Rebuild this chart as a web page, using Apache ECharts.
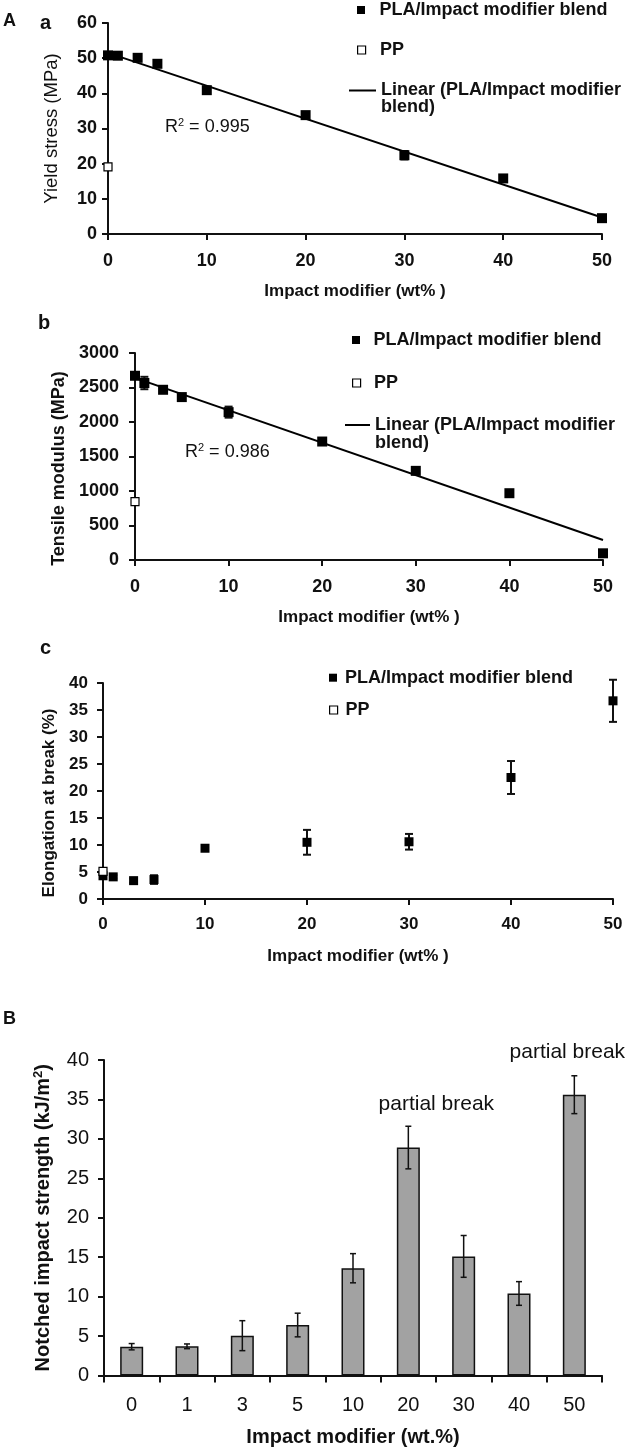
<!DOCTYPE html>
<html><head><meta charset="utf-8">
<script src="https://cdn.jsdelivr.net/npm/echarts@6/dist/echarts.min.js"></script>
<style>html,body{margin:0;padding:0;background:#fff}#c{width:630px;height:1453px}</style>
</head><body><div id="c"></div>
<script>
// ---------- data ----------
const loadings = [0, 1, 3, 5, 10, 20, 30, 40, 50];
const yieldBlend = [50.8, 50.7, 50.1, 48.4, 40.9, 33.8, 22.4, 15.8, 4.5];
const yieldErr = [0.5, 0.4, 0.5, 0.9, 0.8, 0.5, 1.2, 0.6, 0.5];
const yieldPP = 19.1;
const yieldTrend = [[0, 51.5], [50, 4.7]];
const modulusBlend = [2670, 2565, 2467, 2361, 2143, 1717, 1292, 968, 97];
const modulusErr = [30, 90, 20, 25, 80, 25, 25, 15, 25];
const modulusPP = 846;
const modulusTrend = [[0, 2640], [50, 290]];
const elongBlend = [4.3, 4.1, 3.4, 3.6, 9.4, 10.5, 10.6, 22.5, 36.7];
const elongErr = [0.3, 0.3, 0.4, 0.8, 0.5, 2.3, 1.45, 3.05, 3.9];
const elongPP = 5.1;
const impactCats = ['0', '1', '3', '5', '10', '20', '30', '40', '50'];
const impactMean = [3.65, 3.7, 5.05, 6.4, 13.6, 28.9, 15.1, 10.4, 35.6];
const impactErr = [0.4, 0.3, 1.9, 1.5, 1.85, 2.7, 2.65, 1.5, 2.4];
const r2Texts = ['0.995', '0.986'];
const breakCats = ['20', '50'];

const BLEND = 'PLA/Impact modifier blend';
const PPN = 'PP';
const LIN = 'Linear (PLA/Impact modifier blend)';

// ---------- style ----------
const FONT = "'Liberation Sans', Arial, Helvetica, sans-serif";
const INK = '#111';
const SQUARE = 'path://M0,0H10V10H0Z';

function axisBase(extra) {
  return Object.assign({
    axisLine: { show: true, onZero: false, lineStyle: { color: INK, width: 2 } },
    axisTick: { show: true, inside: false, length: 6, lineStyle: { color: INK, width: 2 } },
    splitLine: { show: false },
    nameLocation: 'middle',
  }, extra);
}
function lbl(size, weight, margin) {
  return { color: INK, fontFamily: FONT, fontSize: size, fontWeight: weight, margin: margin, formatter: v => String(v) };
}
function nameStyle(size, weight, extra) {
  return Object.assign({ color: INK, fontFamily: FONT, fontSize: size, fontWeight: weight }, extra || {});
}

function errSeries(axisIdx, xs, means, errs, capHalf, lw) {
  return {
    type: 'custom', xAxisIndex: axisIdx, yAxisIndex: axisIdx, z: 3, clip: false, silent: true,
    data: xs.map((x, i) => [x, means[i] - errs[i], means[i] + errs[i]]),
    encode: { x: 0, y: [1, 2] },
    renderItem: function (params, api) {
      const x = api.value(0);
      const top = api.coord([x, api.value(2)]);
      const bot = api.coord([x, api.value(1)]);
      const st = { stroke: INK, lineWidth: lw };
      return {
        type: 'group', children: [
          { type: 'line', shape: { x1: top[0], y1: top[1], x2: bot[0], y2: bot[1] }, style: st },
          { type: 'line', shape: { x1: top[0] - capHalf, y1: top[1], x2: top[0] + capHalf, y2: top[1] }, style: st },
          { type: 'line', shape: { x1: bot[0] - capHalf, y1: bot[1], x2: bot[0] + capHalf, y2: bot[1] }, style: st }
        ]
      };
    }
  };
}
function blendSeries(axisIdx, values, size) {
  return {
    name: BLEND, type: 'scatter', xAxisIndex: axisIdx, yAxisIndex: axisIdx, z: 4, clip: false,
    symbol: 'rect', symbolSize: size,
    data: loadings.map((x, i) => [x, values[i]]),
    itemStyle: { color: '#000', opacity: 1 }
  };
}
function ppSeries(axisIdx, v, size) {
  return {
    name: PPN, type: 'scatter', xAxisIndex: axisIdx, yAxisIndex: axisIdx, z: 5, clip: false,
    symbol: 'rect', symbolSize: size,
    data: [[0, v]],
    itemStyle: { color: '#fff', borderColor: '#000', borderWidth: 1.2, opacity: 1 }
  };
}
function trendSeries(axisIdx, pts) {
  return {
    name: LIN, type: 'line', xAxisIndex: axisIdx, yAxisIndex: axisIdx, z: 3,
    symbol: 'none', data: pts, lineStyle: { color: '#000', width: 2 }
  };
}

const legTxt = (lh) => ({ color: INK, fontFamily: FONT, fontSize: 18, fontWeight: 'bold', lineHeight: lh });
function legSquare(name, left, top, iw, itemStyle) {
  return {
    show: true, orient: 'vertical', left: left, top: top, padding: 0, selectedMode: false,
    itemWidth: iw, itemHeight: 8, symbolKeepAspect: true, data: [{ name: name, icon: SQUARE }],
    itemStyle: itemStyle, textStyle: legTxt(18)
  };
}
function legLine(left, top, iw, lh) {
  return {
    show: true, orient: 'vertical', left: left, top: top, padding: 0, selectedMode: false,
    itemWidth: iw, itemHeight: 2, symbolKeepAspect: false,
    data: [{ name: LIN, icon: 'rect' }],
    itemStyle: { color: '#000', borderWidth: 0 },
    lineStyle: { width: 0 },
    formatter: () => '\u00a0\nLinear (PLA/Impact modifier\nblend)',
    textStyle: legTxt(lh)
  };
}

const grids = [
  { left: 108, top: 23, width: 494, height: 211 },
  { left: 135, top: 353, width: 468, height: 207 },
  { left: 103, top: 683, width: 510, height: 216 },
  { left: 104, top: 1060, width: 498, height: 315.5 }
];

const xTitle = 'Impact modifier (wt% )';
const option = {
  animation: false,
  backgroundColor: '#fff',
  grid: grids,
  xAxis: [
    axisBase({ gridIndex: 0, type: 'value', min: 0, max: 50, interval: 10, axisLabel: lbl(18, 'bold', 18),
      name: xTitle, nameGap: 49, nameTextStyle: nameStyle(17, 'bold') }),
    axisBase({ gridIndex: 1, type: 'value', min: 0, max: 50, interval: 10, axisLabel: lbl(18, 'bold', 18),
      name: xTitle, nameGap: 49, nameTextStyle: nameStyle(17, 'bold') }),
    axisBase({ gridIndex: 2, type: 'value', min: 0, max: 50, interval: 10, axisLabel: lbl(17, 'bold', 17),
      name: xTitle, nameGap: 49, nameTextStyle: nameStyle(17, 'bold') }),
    axisBase({ gridIndex: 3, type: 'category', data: impactCats,
      axisTick: { show: true, inside: false, alignWithLabel: false, length: 7, lineStyle: { color: INK, width: 2 } },
      axisLabel: lbl(20, 'normal', 20),
      name: 'Impact modifier (wt.%)', nameGap: 52, nameTextStyle: nameStyle(20, 'bold') })
  ],
  yAxis: [
    axisBase({ gridIndex: 0, type: 'value', min: 0, max: 60, interval: 10, axisLabel: lbl(18, 'bold', 11),
      name: 'Yield stress (MPa)', nameGap: 47, nameTextStyle: nameStyle(18.5, 'normal') }),
    axisBase({ gridIndex: 1, type: 'value', min: 0, max: 3000, interval: 500, axisLabel: lbl(18, 'bold', 16),
      name: 'Tensile modulus (MPa)', nameGap: 61, nameTextStyle: nameStyle(18, 'bold', { padding: [0, 24, 0, 0] }) }),
    axisBase({ gridIndex: 2, type: 'value', min: 0, max: 40, interval: 5, axisLabel: lbl(17, 'bold', 15),
      name: 'Elongation at break (%)', nameGap: 41, nameTextStyle: nameStyle(17, 'bold', { padding: [0, 24, 0, 0] }) }),
    axisBase({ gridIndex: 3, type: 'value', min: 0, max: 40, interval: 5, axisLabel: lbl(20, 'normal', 15),
      name: 'Notched impact strength (kJ/m{sup|2})', nameGap: 50,
      nameTextStyle: nameStyle(20, 'bold', { rich: { sup: { fontFamily: FONT, fontSize: 13, fontWeight: 'bold', color: INK, verticalAlign: 'bottom', padding: [0, 0, 9, 0] } } }) })
  ],
  legend: [
    legSquare(BLEND, 357, 1, 27, { color: '#000', borderWidth: 0 }),
    legSquare(PPN, 357, 41, 27, { color: '#fff', borderColor: '#000', borderWidth: 1.2 }),
    legLine(349, 64.5, 27, 17),
    legSquare(BLEND, 352, 331, 25, { color: '#000', borderWidth: 0 }),
    legSquare(PPN, 352, 374, 25, { color: '#fff', borderColor: '#000', borderWidth: 1.2 }),
    legLine(345, 398, 25, 18),
    legSquare(BLEND, 329, 668.7, 14, { color: '#000', borderWidth: 0 }),
    legSquare(PPN, 329, 701, 14, { color: '#fff', borderColor: '#000', borderWidth: 1.2 })
  ],
  series: [
    // panel a
    errSeries(0, loadings, yieldBlend, yieldErr, 4, 2),
    trendSeries(0, yieldTrend),
    blendSeries(0, yieldBlend, 10),
    ppSeries(0, yieldPP, 8),
    // panel b
    errSeries(1, loadings, modulusBlend, modulusErr, 4, 2),
    trendSeries(1, modulusTrend),
    blendSeries(1, modulusBlend, 10),
    ppSeries(1, modulusPP, 8),
    // panel c
    errSeries(2, loadings, elongBlend, elongErr, 4, 2),
    blendSeries(2, elongBlend, 9),
    ppSeries(2, elongPP, 8),
    // panel B
    {
      type: 'bar', xAxisIndex: 3, yAxisIndex: 3, z: 2, data: impactMean, barWidth: 23,
      itemStyle: { color: '#a2a2a2', borderColor: INK, borderWidth: 1.5 }
    },
    errSeries(3, impactCats.map((c, i) => i), impactMean, impactErr, 3, 1.5)
  ]
};

const chart = echarts.init(document.getElementById('c'), null, { renderer: 'canvas', width: 630, height: 1453 });
chart.setOption(option);

// ---------- annotations ----------
const supRich = { sup: { fontFamily: FONT, fontSize: 11, fill: INK, verticalAlign: 'bottom', padding: [0, 0, 8, 0] } };
const r2 = (t, x, y) => ({ type: 'text', x: x, y: y, style: { text: 'R{sup|2} = ' + t, fontFamily: FONT, fontSize: 18, fill: INK, verticalAlign: 'middle', rich: supRich } });
const letter = (t, x, y, size) => ({ type: 'text', x: x, y: y, style: { text: t, fontFamily: FONT, fontSize: size, fontWeight: 'bold', fill: INK, verticalAlign: 'middle' } });

const graphics = [
  letter('A', 3, 21, 18),
  letter('a', 40, 23, 20),
  letter('b', 38, 323.5, 20),
  letter('c', 40, 648.5, 20),
  letter('B', 3, 1019, 18),
  r2(r2Texts[0], 165, 127),
  r2(r2Texts[1], 185, 452)
];
const breakOffsets = [[28, -22], [-7, -24]];
breakCats.forEach((c, k) => {
  const i = impactCats.indexOf(c);
  const p = chart.convertToPixel({ xAxisIndex: 3, yAxisIndex: 3 }, [i, impactMean[i] + impactErr[i]]);
  graphics.push({ type: 'text', x: p[0] + breakOffsets[k][0], y: p[1] + breakOffsets[k][1],
    style: { text: 'partial break', fontFamily: FONT, fontSize: 21, fill: INK, align: 'center', verticalAlign: 'middle' } });
});
chart.setOption({ graphic: graphics });
</script></body></html>
